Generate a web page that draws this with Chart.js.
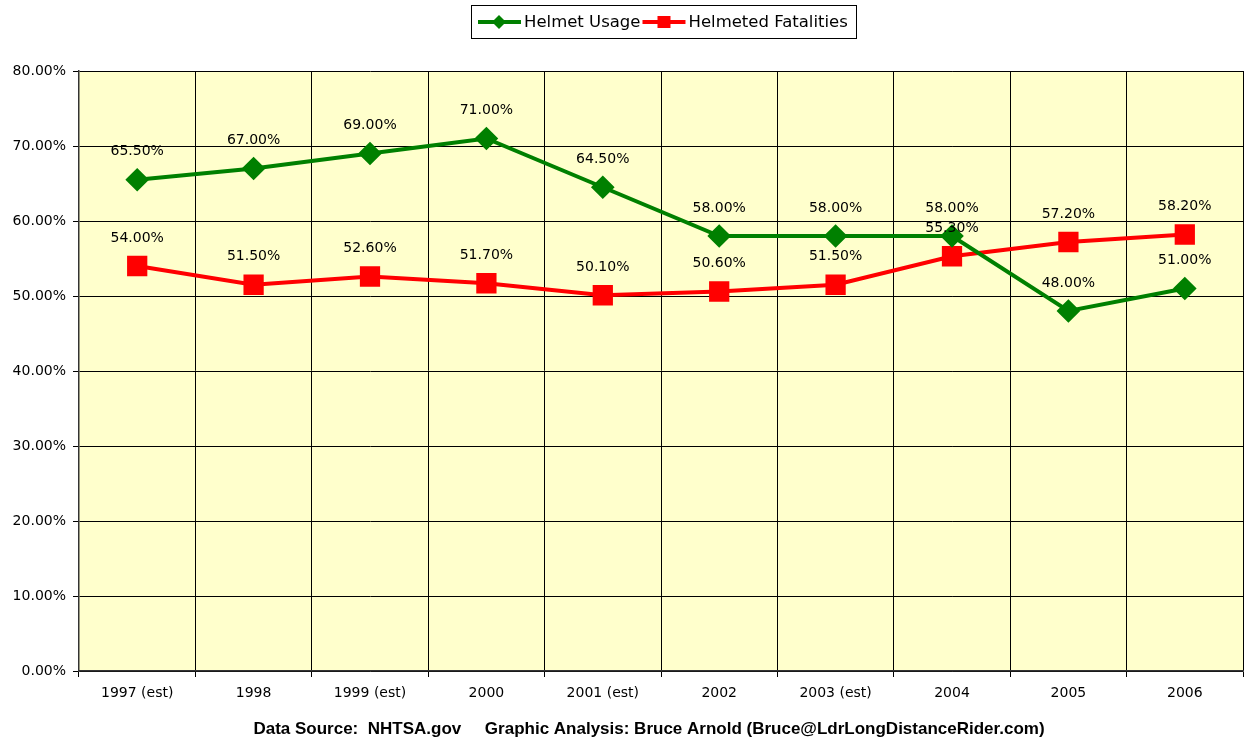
<!DOCTYPE html>
<html>
<head>
<meta charset="utf-8">
<script src="https://cdn.jsdelivr.net/npm/chart.js@4/dist/chart.umd.min.js"></script>
<style>
  html, body { margin: 0; padding: 0; background: #fff; }
  #wrap { width: 1244px; height: 740px; }
</style>
</head>
<body>
<div id="wrap"><canvas id="chart" width="1244" height="740"></canvas></div>
<script>
const years = ['1997 (est)', '1998', '1999 (est)', '2000', '2001 (est)', '2002', '2003 (est)', '2004', '2005', '2006'];
const helmetUsage = [65.5, 67.0, 69.0, 71.0, 64.5, 58.0, 58.0, 58.0, 48.0, 51.0];
const helmetedFatalities = [54.0, 51.5, 52.6, 51.7, 50.1, 50.6, 51.5, 55.3, 57.2, 58.2];
const footerText = 'Data Source:  NHTSA.gov     Graphic Analysis: Bruce Arnold (Bruce@LdrLongDistanceRider.com)';

const FONT = '"DejaVu Sans", Verdana, sans-serif';

// yellow plot background
const plotBg = {
    id: 'plotBg',
    beforeDraw(chart) {
        const a = chart.chartArea, ctx = chart.ctx;
        ctx.save();
        ctx.fillStyle = '#FFFFCC';
        ctx.fillRect(a.left, a.top, a.right - a.left, a.bottom - a.top);
        ctx.restore();
    }
};

// value labels above each point
const valueLabels = {
    id: 'valueLabels',
    afterDatasetsDraw(chart) {
        const ctx = chart.ctx;
        ctx.save();
        ctx.font = '14px ' + FONT;
        ctx.fillStyle = '#000';
        ctx.textAlign = 'center';
        ctx.textBaseline = 'middle';
        chart.data.datasets.forEach((ds, i) => {
            chart.getDatasetMeta(i).data.forEach((pt, j) => {
                ctx.fillText(ds.data[j].toFixed(2) + '%', pt.x, pt.y - 28);
            });
        });
        ctx.restore();
    }
};

// boxed legend at top and footer note
const legendAndFooter = {
    id: 'legendAndFooter',
    afterDraw(chart) {
        const ctx = chart.ctx;
        ctx.save();
        ctx.strokeStyle = '#000';
        ctx.lineWidth = 1;
        ctx.strokeRect(471.5, 5.5, 385, 33);
        ctx.font = '16.5px ' + FONT;
        ctx.textBaseline = 'middle';
        const y = 22;
        let x = 478;
        chart.data.datasets.forEach(ds => {
            ctx.strokeStyle = ds.borderColor;
            ctx.lineWidth = 4;
            ctx.beginPath();
            ctx.moveTo(x, y);
            ctx.lineTo(x + 43, y);
            ctx.stroke();
            ctx.fillStyle = ds.borderColor;
            ctx.beginPath();
            if (ds.pointStyle === 'rectRot') {
                ctx.moveTo(x + 21, y - 7); ctx.lineTo(x + 28, y); ctx.lineTo(x + 21, y + 7); ctx.lineTo(x + 14, y);
            } else {
                ctx.rect(x + 15, y - 6, 13, 12);
            }
            ctx.fill();
            ctx.fillStyle = '#000';
            ctx.fillText(ds.label, x + 46, y + 1);
            x += 46 + ctx.measureText(ds.label).width + 2;
        });
        ctx.font = 'bold 17px "Liberation Sans", Arial, sans-serif';
        ctx.textAlign = 'center';
        ctx.fillText(footerText, 649, 729);
        ctx.restore();
    }
};

new Chart(document.getElementById('chart'), {
    type: 'line',
    data: {
        labels: years,
        datasets: [{
            label: 'Helmet Usage',
            data: helmetUsage,
            borderColor: '#008000',
            backgroundColor: '#008000',
            borderWidth: 4,
            pointStyle: 'rectRot',
            pointRadius: 9,
            pointHoverRadius: 9,
            tension: 0
        }, {
            label: 'Helmeted Fatalities',
            data: helmetedFatalities,
            borderColor: '#FF0000',
            backgroundColor: '#FF0000',
            borderWidth: 4,
            pointStyle: 'rect',
            pointRadius: 11.5,
            pointHoverRadius: 11.5,
            tension: 0
        }]
    },
    options: {
        responsive: false,
        animation: false,
        layout: { autoPadding: false, padding: { top: 71, right: 1, left: 0, bottom: 0 } },
        plugins: { legend: { display: false }, tooltip: { enabled: false } },
        scales: {
            x: {
                offset: true,
                grid: { color: '#000', lineWidth: 1, offset: true, tickLength: 6 },
                border: { color: '#333', width: 1.5 },
                ticks: { color: '#000', font: { family: FONT, size: 14 }, padding: 8, maxRotation: 0 },
                afterFit(scale) { scale.height = 69; }
            },
            y: {
                min: 0,
                max: 80,
                ticks: {
                    stepSize: 10,
                    color: '#000',
                    font: { family: FONT, size: 14 },
                    padding: 7,
                    callback: v => v.toFixed(2) + '%'
                },
                grid: { color: '#000', lineWidth: 1, tickLength: 6 },
                border: { color: '#333', width: 1.5 },
                afterFit(scale) { scale.width = 79; }
            }
        }
    },
    plugins: [plotBg, valueLabels, legendAndFooter]
});
</script>
</body>
</html>
